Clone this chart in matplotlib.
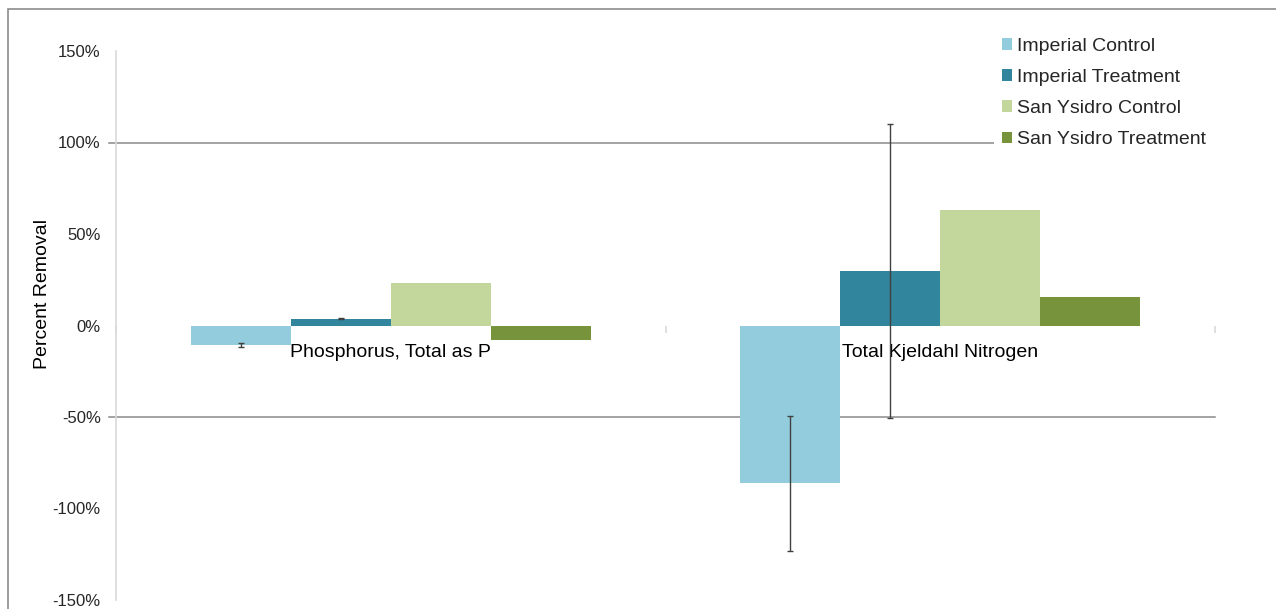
import matplotlib.pyplot as plt
from matplotlib.patches import Rectangle
import numpy as np

categories = ["Phosphorus, Total as P", "Total Kjeldahl Nitrogen"]
series = ["Imperial Control", "Imperial Treatment", "San Ysidro Control", "San Ysidro Treatment"]
values = [
    [-10.7, -86.2],   # Imperial Control
    [3.7, 29.7],      # Imperial Treatment
    [23.3, 63.2],     # San Ysidro Control
    [-7.8, 15.5],     # San Ysidro Treatment
]
errors = [
    [1.0, 37.0],
    [0.4, 80.3],
    [0.0, 0.0],
    [0.0, 0.0],
]
colors = ["#93CDDD", "#31859C", "#C3D69B", "#77933C"]
yticks = [-150, -100, -50, 0, 50, 100, 150]
gridlines = [100, -50]

plt.rcParams['font.family'] = ['Liberation Sans', 'DejaVu Sans']

fig = plt.figure(figsize=(12.76, 6.09), dpi=100)
ax = fig.add_axes([116 / 1276, 1 - 600 / 609, (1215 - 116) / 1276, (600 - 51) / 609])

# outer chart border (runs off the right/bottom of the picture)
fig.patches.append(Rectangle((8 / 1276, -0.05), 1.1, 1 - 9 / 609 + 0.05, transform=fig.transFigure,
                             fill=False, edgecolor='#8c8c8c', linewidth=1.2, zorder=0))

x = np.arange(len(categories))
width = 0.182
for i, name in enumerate(series):
    pos = x + (i - 1.5) * width
    ax.bar(pos, values[i], width, color=colors[i], label=name, edgecolor='none', zorder=2)
    for p, v, e in zip(pos, values[i], errors[i]):
        if e > 0:
            ax.errorbar(p, v, yerr=e, fmt='none', ecolor='#404040', elinewidth=1.0,
                        capsize=2, capthick=1.0, zorder=4)

for g in gridlines:
    ax.axhline(g, xmin=-0.006, xmax=1, color='#8a8a8a', linewidth=1.1, zorder=1, clip_on=False)

ax.set_xlim(-0.5, 1.5)
ax.set_ylim(-150, 150)
ax.set_yticks(yticks)
ax.set_yticklabels([f"{t}%" for t in yticks])
ax.tick_params(axis='y', length=0, pad=11, labelsize=12, labelcolor='#262626')

ax.spines['top'].set_visible(False)
ax.spines['right'].set_visible(False)
ax.spines['left'].set_color('#d9d9d9')
ax.spines['left'].set_linewidth(1.2)
ax.spines['bottom'].set_position(('data', 0))
ax.spines['bottom'].set_visible(False)

ax.set_xticks(x)
ax.set_xticklabels(categories)
ax.set_xticks([-0.5, 0.5, 1.5], minor=True)
ax.tick_params(axis='x', which='major', length=0, pad=13, labelsize=14, labelcolor='#000000')
ax.tick_params(axis='x', which='minor', length=5, width=1.2, color='#d9d9d9', direction='out')
for lbl in ax.get_xticklabels():
    lbl.set_zorder(3)

ax.set_ylabel("Percent Removal", fontsize=14, color='#000000')
ax.yaxis.label.set_verticalalignment('center')
ax.yaxis.set_label_coords((43 - 116) / 1099, (600 - 294) / 549)

leg = ax.legend(loc='upper left', bbox_to_anchor=(994 / 1276, 1 - 30 / 609, 235 / 1276, 0),
                mode='expand', bbox_transform=fig.transFigure, fontsize=14, frameon=True,
                fancybox=False, edgecolor='none', facecolor='white', framealpha=1, borderpad=0.4,
                handlelength=0.55, handleheight=0.55, handletextpad=0.25, labelspacing=0.73,
                borderaxespad=0)
leg.set_zorder(5)
for t in leg.get_texts():
    t.set_color('#262626')

fig.savefig("out.png", dpi=100)
